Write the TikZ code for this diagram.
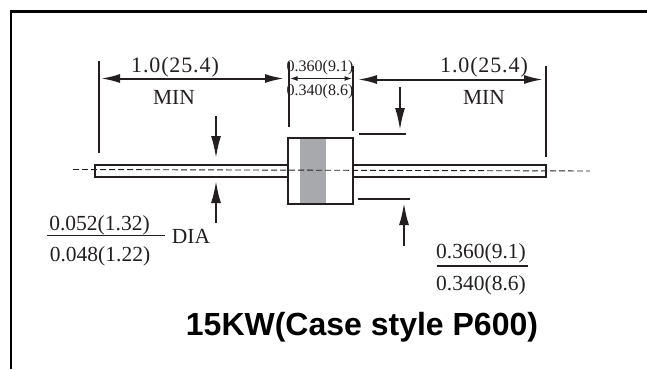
\documentclass[tikz,border=0pt]{standalone}
\usepackage{fontspec}
\setmainfont{Liberation Serif}
\usetikzlibrary{arrows.meta,positioning}
\definecolor{ink}{HTML}{231F20}
\definecolor{band}{HTML}{A7A9AC}
\tikzstyle{lead} = [draw=ink, line width=2pt, rectangle, inner sep=0pt,
    outer sep=0pt, minimum width=193pt, minimum height=12pt]
\tikzstyle{body} = [draw=ink, line width=2pt, rectangle, inner sep=0pt,
    outer sep=0pt, minimum width=65pt, minimum height=66pt]
\tikzstyle{stripe} = [fill=band, rectangle, inner sep=0pt, outer sep=0pt,
    minimum width=26pt, minimum height=64pt]
\tikzstyle{txt} = [anchor=base, inner sep=0pt, text=ink]
\tikzstyle{big} = [txt, font=\fontsize{22}{22}\selectfont\addfontfeature{LetterSpace=4}]
\tikzstyle{mid} = [txt, font=\fontsize{21.5}{21.5}\selectfont]
\tikzstyle{tiny} = [txt, font=\fontsize{16}{16}\selectfont]
\tikzstyle{bar} = [draw=ink, line width=2pt]
\tikzstyle{rule} = [draw=ink, line width=1.2pt]
\tikzstyle{dim} = [draw=ink, line width=2pt, {Latex[length=19pt,width=9pt]}-{Latex[length=19pt,width=9pt]}]
\tikzstyle{dimsmall} = [draw=ink, line width=1.6pt, {Latex[length=8pt,width=5pt]}-{Latex[length=8pt,width=5pt]}]
\tikzstyle{pointer} = [draw=ink, line width=2pt, -{Latex[length=22pt,width=10pt]}]
\tikzstyle{center} = [draw=ink, line width=0.9pt, dash pattern=on 6pt off 3pt]

\begin{document}
\begin{tikzpicture}[x=1pt, y=-1pt]
\useasboundingbox (0,0) rectangle (647,369);

\coordinate (f1) at (11,369);
\coordinate (f2) at (11,11.5);
\coordinate (f3) at (647,11.5);
\draw[draw=black, line width=2.6pt] (f1) -- (f2) -- (f3);

\node[stripe] (band) at (313,171) {};
\node[body] (case) at (320.5,171) {};
\node[lead, left=0pt of case] (lead-1) {};
\node[lead, right=0pt of case] (lead-2) {};
\coordinate (c1) at (73,169.5);
\coordinate (c2) at (590,171);
\draw[center] (c1) -- (c2);

\coordinate (b1-1) at (98.5,61);
\coordinate (b1-2) at (98.5,153);
\coordinate (b2-1) at (288.5,62);
\coordinate (b2-2) at (288.5,127);
\coordinate (b3-1) at (353,66);
\coordinate (b3-2) at (353,131);
\coordinate (b4-1) at (546,66);
\coordinate (b4-2) at (546,157);
\foreach \i in {1,2,3,4}
  \draw[bar] (b\i-1) -- (b\i-2);

\coordinate (d1-1) at (101,78.5);
\coordinate (d1-2) at (284,78.5);
\coordinate (d2-1) at (289.5,78.5);
\coordinate (d2-2) at (352.5,78.5);
\coordinate (d3-1) at (358,79.5);
\coordinate (d3-2) at (543,79.5);
\draw[dim] (d1-1) -- (d1-2);
\draw[dimsmall] (d2-1) -- (d2-2);
\draw[dim] (d3-1) -- (d3-2);

\node[big] (len-1) at (175,72.5) {1.0(25.4)};
\node[mid] (min-1) at (174,104) {MIN};
\node[big] (len-2) at (484,72.5) {1.0(25.4)};
\node[mid] (min-2) at (484,104) {MIN};
\node[tiny] (top-1) at (320,71) {0.360(9.1)};
\node[tiny] (top-2) at (320,95) {0.340(8.6)};

\coordinate (p1-1) at (216,116);
\coordinate (p1-2) at (216,158);
\coordinate (p2-1) at (216,223);
\coordinate (p2-2) at (216,181);
\coordinate (p3-1) at (400,87);
\coordinate (p3-2) at (400,130);
\coordinate (p4-1) at (404,246);
\coordinate (p4-2) at (404,203);
\foreach \i in {1,2,3,4}
  \draw[pointer] (p\i-1) -- (p\i-2);

\coordinate (t1-1) at (359,134);
\coordinate (t1-2) at (406,134);
\coordinate (t2-1) at (358,199);
\coordinate (t2-2) at (410,199);
\draw[bar] (t1-1) -- (t1-2);
\draw[bar] (t2-1) -- (t2-2);

\node[mid] (dia-1) at (99.5,230) {0.052(1.32)};
\coordinate (r1-1) at (47,235.7);
\coordinate (r1-2) at (165,235.7);
\draw[rule] (r1-1) -- (r1-2);
\node[mid] (dia-2) at (100,261) {0.048(1.22)};
\node[mid] (dia-3) at (191,243) {DIA};

\node[mid] (wid-1) at (481,258) {0.360(9.1)};
\coordinate (r2-1) at (437,266);
\coordinate (r2-2) at (528,266);
\draw[rule] (r2-1) -- (r2-2);
\node[mid] (wid-2) at (481,290) {0.340(8.6)};

\node[anchor=base, inner sep=0pt, font=\fontsize{32}{32}\selectfont\fontspec{Liberation Sans}\bfseries] (title) at (362,335) {15KW(Case style P600)};

\end{tikzpicture}
\end{document}
